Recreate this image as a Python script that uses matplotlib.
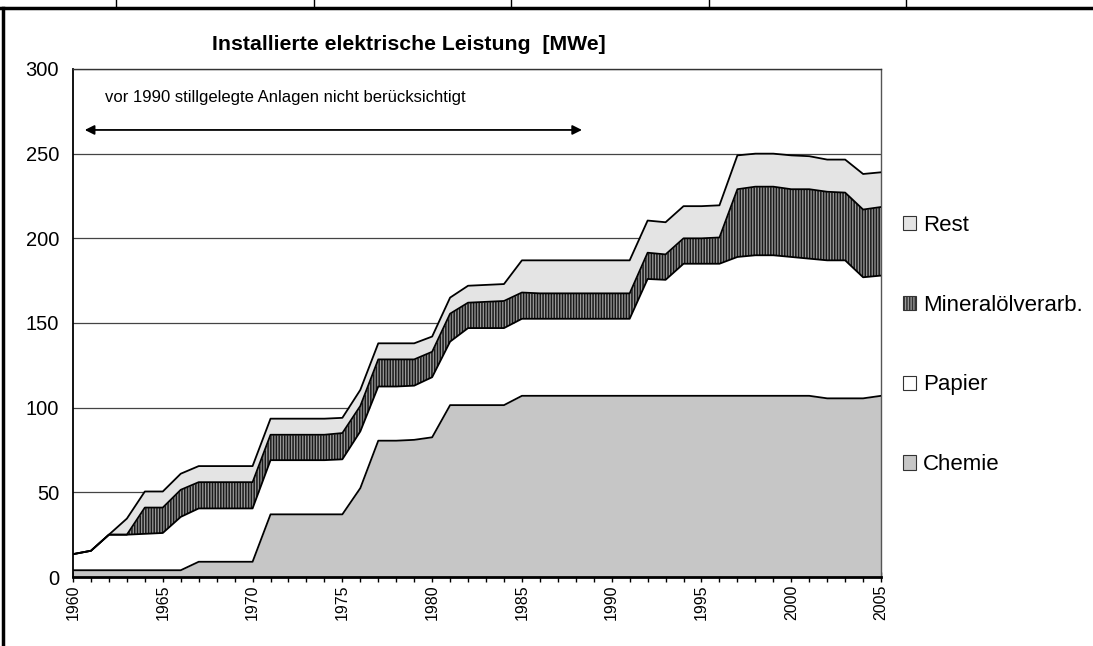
#!/usr/bin/env python3

import matplotlib.pyplot as plt
import numpy as np
from matplotlib.lines import Line2D
from matplotlib.patches import Patch

plt.rcParams["font.family"] = ["Liberation Sans", "DejaVu Sans"]
plt.rcParams["hatch.linewidth"] = 1.1

years = list(range(1960, 2006))

chemie = [4, 4, 4, 4, 4, 4, 4, 9, 9, 9,
          9, 37, 37, 37, 37, 37, 52.5, 80.5, 80.5, 81,
          82.5, 101.5, 101.5, 101.5, 101.5, 107, 107, 107, 107, 107,
          107, 107, 107, 107, 107, 107, 107, 107, 107, 107,
          107, 107, 105.5, 105.5, 105.5, 107]
papier = [9.5, 11.5, 21, 21, 21.5, 22, 31.5, 31.5, 31.5, 31.5,
          31.5, 32, 32, 32, 32, 32.5, 33.5, 32, 32, 32,
          35.5, 37.5, 45.5, 45.5, 45.5, 45.5, 45.5, 45.5, 45.5, 45.5,
          45.5, 45.5, 69, 68.5, 78, 78, 78, 82, 83, 83,
          82, 81, 81.5, 81.5, 71.5, 71]
mineraloel = [0, 0, 0, 0, 15.5, 15, 16, 15.5, 15.5, 15.5,
              15.5, 15, 15, 15, 15, 15.5, 15, 16, 16, 15.5,
              15, 16.5, 15, 15.5, 16, 15.5, 15, 15, 15, 15,
              15, 15, 15.5, 15, 15, 15, 15.5, 40, 40.5, 40.5,
              40, 41, 40.5, 40, 40, 40.5]
rest = [0, 0, 0, 9.5, 9.5, 9.5, 9.5, 9.5, 9.5, 9.5,
        9.5, 9.5, 9.5, 9.5, 9.5, 9, 9.5, 9.5, 9.5, 9.5,
        9, 9.5, 10, 10, 10, 19, 19.5, 19.5, 19.5, 19.5,
        19.5, 19.5, 19, 19, 19, 19, 19, 20, 19.5, 19.5,
        20, 19.5, 19, 19.5, 21, 20.5]

labels = ["Chemie", "Papier", "Mineralölverarb.", "Rest"]
faces = ["#c6c6c6", "white", "#9a9a9a", "#e4e4e4"]
hatches = [None, None, "||||||", None]

fig = plt.figure(figsize=(10.93, 6.46), dpi=100)
ax = fig.add_axes([0.0668, 0.1068, 0.7393, 0.7864])

x = np.array(years)
series = [np.array(s, dtype=float) for s in (chemie, papier, mineraloel, rest)]
bottom = np.zeros(len(x))
for s, fc, h in zip(series, faces, hatches):
    top = bottom + s
    ax.fill_between(x, bottom, top, facecolor=fc, edgecolor="#1a1a1a",
                    hatch=h, linewidth=0, zorder=2)
    ax.plot(x, top, color="black", lw=1.3, zorder=3)
    bottom = top

ax.set_xlim(1960, 2005)
ax.set_ylim(0, 300)
ax.set_yticks(range(0, 301, 50))
ax.set_xticks(range(1960, 2006))
ax.set_xticklabels([str(y) if y % 5 == 0 else "" for y in years],
                   rotation=90, fontsize=11.5)
ax.tick_params(axis="x", direction="inout", length=7, width=1, pad=2)
ax.tick_params(axis="y", length=0, pad=10, labelsize=14.5)
ax.yaxis.grid(True, color="#444444", lw=0.9, zorder=0)
ax.set_axisbelow(True)
ax.spines["left"].set_linewidth(1.3)
ax.spines["bottom"].set_linewidth(2)
ax.spines["top"].set_linewidth(1.0)
ax.spines["top"].set_color("#333333")
ax.spines["right"].set_linewidth(1.0)
ax.spines["right"].set_color("#555555")

# Hinweis mit Doppelpfeil
ax.annotate("", xy=(1960.5, 264), xytext=(1988.5, 264),
            arrowprops=dict(arrowstyle="<|-|>", color="black", lw=1.3,
                            mutation_scale=14))
ax.text(1961.8, 283, "vor 1990 stillgelegte Anlagen nicht berücksichtigt",
        fontsize=12, va="center", ha="left")

fig.text(409 / 1093, 1 - 45 / 646, "Installierte elektrische Leistung  [MWe]",
         fontsize=15.3, fontweight="bold", ha="center", va="center")

handles = [Patch(facecolor=fc, edgecolor="#333333", hatch=h, lw=0.8)
           for fc, h in zip(faces, hatches)]
ax.legend(handles[::-1], labels[::-1], loc="center left",
          bbox_to_anchor=(0.816, 0.466), bbox_transform=fig.transFigure,
          frameon=False, fontsize=16, handlelength=0.6, handleheight=0.6,
          handletextpad=0.3, labelspacing=2.65, borderpad=0)

# Rahmen oben und links
fig.add_artist(Line2D([0, 1], [1 - 8 / 646] * 2, color="black", lw=2.5))
fig.add_artist(Line2D([3 / 1093] * 2, [0, 1 - 8 / 646], color="black", lw=2.5))
for px in [116, 314, 511, 709, 906]:
    fig.add_artist(Line2D([px / 1093] * 2, [1 - 8 / 646, 1], color="black", lw=1))

fig.savefig("out.png", dpi=100)
